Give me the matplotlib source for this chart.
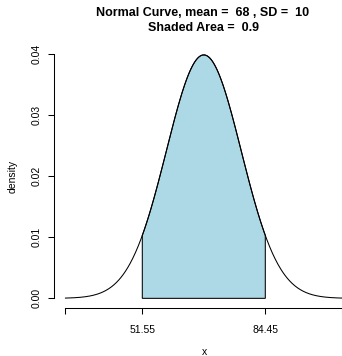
import numpy as np
import matplotlib
matplotlib.use("Agg")
import matplotlib.pyplot as plt

# Normal distribution parameters and shaded interval
mean = 68
sd = 10
area = 0.9
lower = 51.55
upper = 84.45
x_min = 31
x_max = 105

plt.rcParams['font.family'] = ['Liberation Sans', 'DejaVu Sans']

def density(x):
    return np.exp(-0.5 * ((x - mean) / sd) ** 2) / (sd * np.sqrt(2 * np.pi))

xs = np.linspace(x_min, x_max, 600)
ys = density(xs)

fig = plt.figure(figsize=(3.42, 3.56), dpi=100)
W, H = 342, 356
left_px, right_px, top_px, bottom_px = 54.4, 353.2, 44.5, 308.1
ax = fig.add_axes([left_px / W, 1 - bottom_px / H,
                   (right_px - left_px) / W, (bottom_px - top_px) / H])

pad_x = 0.04 * (x_max - x_min)
ax.set_xlim(x_min - pad_x, x_max + pad_x)
ax.set_ylim(-0.04 * 0.04, 0.04 * 1.04)

# Shaded region under the curve
xs_fill = np.linspace(lower, upper, 400)
ys_fill = density(xs_fill)
poly_x = np.concatenate([[lower], xs_fill, [upper]])
poly_y = np.concatenate([[0], ys_fill, [0]])
ax.fill(poly_x, poly_y, facecolor='#ADD8E6', edgecolor='black', linewidth=0.75)

ax.plot(xs, ys, color='black', linewidth=0.75)

for s in ['top', 'right']:
    ax.spines[s].set_visible(False)
ax.spines['left'].set_bounds(0, 0.04)
ax.spines['bottom'].set_bounds(x_min, x_max)
ax.spines['left'].set_linewidth(0.75)
ax.spines['bottom'].set_linewidth(0.75)

ax.set_yticks([0, 0.01, 0.02, 0.03, 0.04])
ax.set_yticklabels(['0.00', '0.01', '0.02', '0.03', '0.04'],
                   rotation=90, va='center', fontsize=7.5)
ax.set_xticks([x_min, lower, upper, x_max])
ax.set_xticklabels(['', f'{lower:.2f}', f'{upper:.2f}', ''], fontsize=7.5)
ax.tick_params(axis='both', length=4.5, width=0.75, color='black')
ax.tick_params(axis='y', pad=5)
ax.tick_params(axis='x', pad=8)

ax.set_ylabel('density', fontsize=7.5, labelpad=10)
fig.text(204 / W, 1 - 355 / H, 'x', ha='center', va='baseline', fontsize=7.5)

fig.text(203 / W, 1 - 13 / H, f'Normal Curve, mean =  {mean} , SD =  {sd}',
         ha='center', va='center', fontsize=9, fontweight='bold')
fig.text(203 / W, 1 - 28 / H, f'Shaded Area =  {area}',
         ha='center', va='center', fontsize=9, fontweight='bold')

fig.savefig('out.png', dpi=100)
